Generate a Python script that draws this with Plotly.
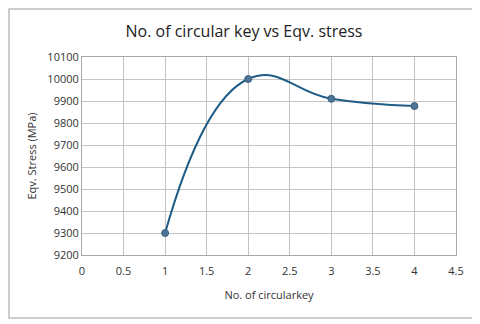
import plotly.graph_objects as go

keys = [1, 2, 3, 4]
stress = [9300, 10000, 9910, 9877]
x_ticks = [0, 0.5, 1, 1.5, 2, 2.5, 3, 3.5, 4, 4.5]
x_tick_labels = ["0", "0.5", "1", "1.5", "2", "2.5", "3", "3.5", "4", "4.5"]
y_ticks = [9200, 9300, 9400, 9500, 9600, 9700, 9800, 9900, 10000, 10100]
y_tick_labels = [str(v) for v in y_ticks]

fig = go.Figure()
fig.add_trace(go.Scatter(
    x=keys, y=stress, mode="lines+markers",
    line=dict(color="#1F5C86", width=2, shape="spline", smoothing=1.3),
    marker=dict(color="#4F7494", size=7, line=dict(color="#3A6184", width=1)),
    showlegend=False,
))

W, H = 472, 316
L, R, T, B = 74, 24, 49, 69
pw, ph = W - L - R, H - T - B

font_family = "Open Sans, Liberation Sans, sans-serif"
fig.update_layout(
    width=W, height=H,
    margin=dict(l=L, r=R, t=T, b=B),
    paper_bgcolor="white", plot_bgcolor="white",
    title=dict(text="No. of circular key vs Eqv. stress", x=0.5, xanchor="center",
               y=1 - 23 / H, yanchor="middle",
               font=dict(family=font_family, size=16, color="#222222")),
    xaxis=dict(range=[0, 4.5], tickvals=x_ticks, ticktext=x_tick_labels,
               showgrid=True, gridcolor="#C4C4C4", gridwidth=1,
               showline=True, linecolor="#A8A8A8", linewidth=1, mirror=True,
               zeroline=False, ticks="", ticklabelstandoff=6,
               tickfont=dict(family=font_family, size=11, color="#333333"),
               title=dict(text="No. of circularkey", standoff=14,
                          font=dict(family=font_family, size=11, color="#333333"))),
    yaxis=dict(range=[9200, 10100], tickvals=y_ticks, ticktext=y_tick_labels,
               showgrid=True, gridcolor="#C4C4C4", gridwidth=1,
               showline=True, linecolor="#A8A8A8", linewidth=1, mirror=True,
               zeroline=False, ticks="",
               tickfont=dict(family=font_family, size=11, color="#333333"),
               title=dict(text="Eqv. Stress (MPa)", standoff=8,
                          font=dict(family=font_family, size=11, color="#333333"))),
    shapes=[dict(type="rect", xref="paper", yref="paper",
                 x0=(1 - L) / pw, x1=(W - 5 - L) / pw,
                 y0=(T + ph - (H - 6)) / ph, y1=(T + ph - 1) / ph,
                 line=dict(color="#BDBDBD", width=1.5), fillcolor="rgba(0,0,0,0)",
                 layer="below")],
)
fig.write_html("out.html")
